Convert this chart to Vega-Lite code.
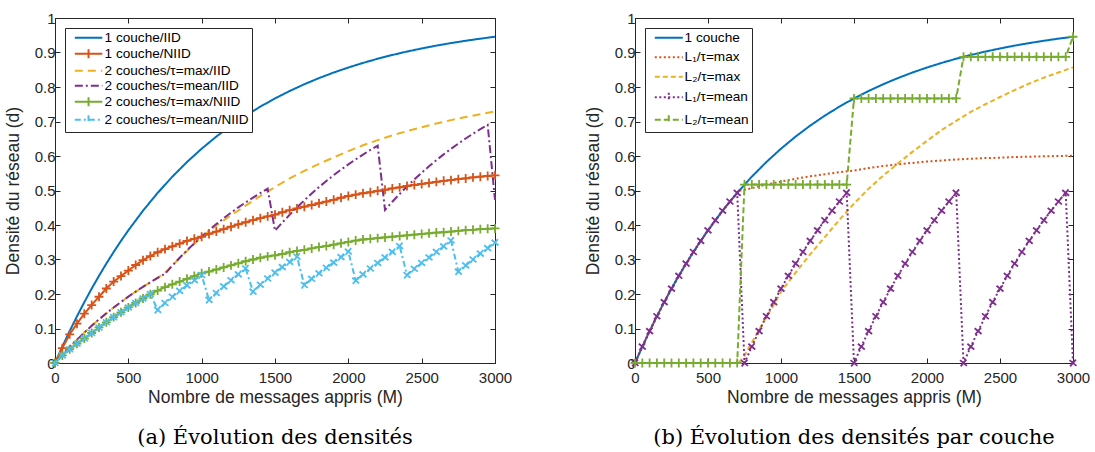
{
  "$schema": "https://vega.github.io/schema/vega-lite/v6.json",
  "background": "white",
  "padding": {"left": 3, "top": 10, "right": 5, "bottom": 2},
  "bounds": "flush",
  "spacing": 140,
  "config": {
    "view": {"stroke": "#262626", "strokeWidth": 1},
    "axis": {
      "grid": false,
      "labelFlush": false,
      "labelOverlap": false,
      "domainColor": "#262626",
      "domainWidth": 1,
      "tickColor": "#262626",
      "tickWidth": 1,
      "tickSize": -5,
      "labelFont": "Liberation Sans",
      "labelFontSize": 15,
      "labelColor": "#262626",
      "titleFont": "Liberation Sans",
      "titleFontSize": 17.5,
      "titleFontWeight": "normal",
      "titleColor": "#262626"
    },
    "legend": {
      "orient": "top-left",
      "offset": 10,
      "padding": 3,
      "strokeColor": "#262626",
      "fillColor": "white",
      "cornerRadius": 0,
      "labelFont": "Liberation Sans",
      "labelFontSize": 13.6,
      "labelColor": "#000000",
      "labelOffset": 23,
      "symbolSize": 100,
      "symbolStrokeWidth": 2,
      "rowPadding": 0,
      "title": null
    },
    "title": {"font": "DejaVu Serif", "fontSize": 21, "fontWeight": "normal", "color": "#000000", "orient": "bottom", "anchor": "middle", "offset": 21}
  },
  "datasets": {
    "L": [
      {"s":"1 couche/IID","m":0,"d":0},{"s":"1 couche/IID","m":50,"d":0.0474},{"s":"1 couche/IID","m":100,"d":0.0925},{"s":"1 couche/IID","m":150,"d":0.1355},{"s":"1 couche/IID","m":200,"d":0.1765},{"s":"1 couche/IID","m":250,"d":0.2155},{"s":"1 couche/IID","m":300,"d":0.2527},{"s":"1 couche/IID","m":350,"d":0.2881},{"s":"1 couche/IID","m":400,"d":0.3218},{"s":"1 couche/IID","m":450,"d":0.354},{"s":"1 couche/IID","m":500,"d":0.3845},{"s":"1 couche/IID","m":600,"d":0.4415},{"s":"1 couche/IID","m":700,"d":0.4932},{"s":"1 couche/IID","m":800,"d":0.5401},{"s":"1 couche/IID","m":900,"d":0.5826},{"s":"1 couche/IID","m":1000,"d":0.6212},{"s":"1 couche/IID","m":1100,"d":0.6563},{"s":"1 couche/IID","m":1200,"d":0.6881},{"s":"1 couche/IID","m":1300,"d":0.717},{"s":"1 couche/IID","m":1400,"d":0.7431},{"s":"1 couche/IID","m":1500,"d":0.7669},{"s":"1 couche/IID","m":1600,"d":0.7884},{"s":"1 couche/IID","m":1700,"d":0.808},{"s":"1 couche/IID","m":1800,"d":0.8258},{"s":"1 couche/IID","m":1900,"d":0.8419},{"s":"1 couche/IID","m":2000,"d":0.8565},{"s":"1 couche/IID","m":2100,"d":0.8698},{"s":"1 couche/IID","m":2200,"d":0.8819},{"s":"1 couche/IID","m":2300,"d":0.8928},{"s":"1 couche/IID","m":2400,"d":0.9027},{"s":"1 couche/IID","m":2500,"d":0.9117},{"s":"1 couche/IID","m":2600,"d":0.9199},{"s":"1 couche/IID","m":2700,"d":0.9273},{"s":"1 couche/IID","m":2800,"d":0.934},{"s":"1 couche/IID","m":2900,"d":0.9401},{"s":"1 couche/IID","m":3000,"d":0.9457},

      {"s":"1 couche/NIID","m":0,"d":0},{"s":"1 couche/NIID","m":50,"d":0.043},{"s":"1 couche/NIID","m":100,"d":0.083},{"s":"1 couche/NIID","m":150,"d":0.114},{"s":"1 couche/NIID","m":200,"d":0.143},{"s":"1 couche/NIID","m":250,"d":0.168},{"s":"1 couche/NIID","m":300,"d":0.192},{"s":"1 couche/NIID","m":350,"d":0.216},{"s":"1 couche/NIID","m":400,"d":0.236},{"s":"1 couche/NIID","m":450,"d":0.252},{"s":"1 couche/NIID","m":500,"d":0.268},{"s":"1 couche/NIID","m":550,"d":0.284},{"s":"1 couche/NIID","m":600,"d":0.298},{"s":"1 couche/NIID","m":650,"d":0.31},{"s":"1 couche/NIID","m":700,"d":0.321},{"s":"1 couche/NIID","m":750,"d":0.33},{"s":"1 couche/NIID","m":800,"d":0.338},{"s":"1 couche/NIID","m":850,"d":0.346},{"s":"1 couche/NIID","m":900,"d":0.354},{"s":"1 couche/NIID","m":950,"d":0.36},{"s":"1 couche/NIID","m":1000,"d":0.366},{"s":"1 couche/NIID","m":1050,"d":0.374},{"s":"1 couche/NIID","m":1100,"d":0.381},{"s":"1 couche/NIID","m":1150,"d":0.388},{"s":"1 couche/NIID","m":1200,"d":0.395},{"s":"1 couche/NIID","m":1250,"d":0.402},{"s":"1 couche/NIID","m":1300,"d":0.408},{"s":"1 couche/NIID","m":1350,"d":0.414},{"s":"1 couche/NIID","m":1400,"d":0.42},{"s":"1 couche/NIID","m":1450,"d":0.425},{"s":"1 couche/NIID","m":1500,"d":0.43},{"s":"1 couche/NIID","m":1550,"d":0.437},{"s":"1 couche/NIID","m":1600,"d":0.443},{"s":"1 couche/NIID","m":1650,"d":0.448},{"s":"1 couche/NIID","m":1700,"d":0.453},{"s":"1 couche/NIID","m":1750,"d":0.458},{"s":"1 couche/NIID","m":1800,"d":0.463},{"s":"1 couche/NIID","m":1850,"d":0.468},{"s":"1 couche/NIID","m":1900,"d":0.473},{"s":"1 couche/NIID","m":1950,"d":0.479},{"s":"1 couche/NIID","m":2000,"d":0.484},{"s":"1 couche/NIID","m":2050,"d":0.488},{"s":"1 couche/NIID","m":2100,"d":0.492},{"s":"1 couche/NIID","m":2150,"d":0.495},{"s":"1 couche/NIID","m":2200,"d":0.499},{"s":"1 couche/NIID","m":2250,"d":0.502},{"s":"1 couche/NIID","m":2300,"d":0.506},{"s":"1 couche/NIID","m":2350,"d":0.509},{"s":"1 couche/NIID","m":2400,"d":0.513},{"s":"1 couche/NIID","m":2450,"d":0.516},{"s":"1 couche/NIID","m":2500,"d":0.519},{"s":"1 couche/NIID","m":2550,"d":0.522},{"s":"1 couche/NIID","m":2600,"d":0.525},{"s":"1 couche/NIID","m":2650,"d":0.528},{"s":"1 couche/NIID","m":2700,"d":0.53},{"s":"1 couche/NIID","m":2750,"d":0.533},{"s":"1 couche/NIID","m":2800,"d":0.535},{"s":"1 couche/NIID","m":2850,"d":0.538},{"s":"1 couche/NIID","m":2900,"d":0.54},{"s":"1 couche/NIID","m":2950,"d":0.542},{"s":"1 couche/NIID","m":3000,"d":0.544},

      {"s":"2 couches/τ=max/IID","m":0,"d":0},{"s":"2 couches/τ=max/IID","m":100,"d":0.0463},{"s":"2 couches/τ=max/IID","m":200,"d":0.0883},{"s":"2 couches/τ=max/IID","m":300,"d":0.1264},{"s":"2 couches/τ=max/IID","m":400,"d":0.1609},{"s":"2 couches/τ=max/IID","m":500,"d":0.1923},{"s":"2 couches/τ=max/IID","m":600,"d":0.2208},{"s":"2 couches/τ=max/IID","m":700,"d":0.2466},{"s":"2 couches/τ=max/IID","m":750,"d":0.262},{"s":"2 couches/τ=max/IID","m":800,"d":0.283},{"s":"2 couches/τ=max/IID","m":850,"d":0.304},{"s":"2 couches/τ=max/IID","m":900,"d":0.325},{"s":"2 couches/τ=max/IID","m":950,"d":0.345},{"s":"2 couches/τ=max/IID","m":1000,"d":0.366},{"s":"2 couches/τ=max/IID","m":1100,"d":0.398},{"s":"2 couches/τ=max/IID","m":1200,"d":0.428},{"s":"2 couches/τ=max/IID","m":1300,"d":0.456},{"s":"2 couches/τ=max/IID","m":1400,"d":0.484},{"s":"2 couches/τ=max/IID","m":1500,"d":0.51},{"s":"2 couches/τ=max/IID","m":1600,"d":0.535},{"s":"2 couches/τ=max/IID","m":1700,"d":0.557},{"s":"2 couches/τ=max/IID","m":1800,"d":0.577},{"s":"2 couches/τ=max/IID","m":1900,"d":0.596},{"s":"2 couches/τ=max/IID","m":2000,"d":0.614},{"s":"2 couches/τ=max/IID","m":2100,"d":0.631},{"s":"2 couches/τ=max/IID","m":2200,"d":0.646},{"s":"2 couches/τ=max/IID","m":2300,"d":0.66},{"s":"2 couches/τ=max/IID","m":2400,"d":0.672},{"s":"2 couches/τ=max/IID","m":2500,"d":0.683},{"s":"2 couches/τ=max/IID","m":2600,"d":0.694},{"s":"2 couches/τ=max/IID","m":2700,"d":0.704},{"s":"2 couches/τ=max/IID","m":2800,"d":0.713},{"s":"2 couches/τ=max/IID","m":2900,"d":0.721},{"s":"2 couches/τ=max/IID","m":3000,"d":0.729},

      {"s":"2 couches/τ=mean/IID","m":0,"d":0},{"s":"2 couches/τ=mean/IID","m":50,"d":0.0237},{"s":"2 couches/τ=mean/IID","m":100,"d":0.0463},{"s":"2 couches/τ=mean/IID","m":150,"d":0.0678},{"s":"2 couches/τ=mean/IID","m":200,"d":0.0883},{"s":"2 couches/τ=mean/IID","m":250,"d":0.1078},{"s":"2 couches/τ=mean/IID","m":300,"d":0.1264},{"s":"2 couches/τ=mean/IID","m":350,"d":0.1441},{"s":"2 couches/τ=mean/IID","m":400,"d":0.1609},{"s":"2 couches/τ=mean/IID","m":450,"d":0.177},{"s":"2 couches/τ=mean/IID","m":500,"d":0.1923},{"s":"2 couches/τ=mean/IID","m":550,"d":0.2069},{"s":"2 couches/τ=mean/IID","m":600,"d":0.2208},{"s":"2 couches/τ=mean/IID","m":650,"d":0.234},{"s":"2 couches/τ=mean/IID","m":700,"d":0.2466},
      {"s":"2 couches/τ=mean/IID","m":750,"d":0.2586},{"s":"2 couches/τ=mean/IID","m":800,"d":0.2823},{"s":"2 couches/τ=mean/IID","m":850,"d":0.3049},{"s":"2 couches/τ=mean/IID","m":900,"d":0.3264},{"s":"2 couches/τ=mean/IID","m":950,"d":0.3469},{"s":"2 couches/τ=mean/IID","m":1000,"d":0.3664},{"s":"2 couches/τ=mean/IID","m":1050,"d":0.385},{"s":"2 couches/τ=mean/IID","m":1100,"d":0.4027},{"s":"2 couches/τ=mean/IID","m":1150,"d":0.4195},{"s":"2 couches/τ=mean/IID","m":1200,"d":0.4356},{"s":"2 couches/τ=mean/IID","m":1250,"d":0.4509},{"s":"2 couches/τ=mean/IID","m":1300,"d":0.4655},{"s":"2 couches/τ=mean/IID","m":1350,"d":0.4794},{"s":"2 couches/τ=mean/IID","m":1400,"d":0.4926},{"s":"2 couches/τ=mean/IID","m":1450,"d":0.5052},
      {"s":"2 couches/τ=mean/IID","m":1500,"d":0.3835},{"s":"2 couches/τ=mean/IID","m":1550,"d":0.4072},{"s":"2 couches/τ=mean/IID","m":1600,"d":0.4297},{"s":"2 couches/τ=mean/IID","m":1650,"d":0.4512},{"s":"2 couches/τ=mean/IID","m":1700,"d":0.4717},{"s":"2 couches/τ=mean/IID","m":1750,"d":0.4912},{"s":"2 couches/τ=mean/IID","m":1800,"d":0.5098},{"s":"2 couches/τ=mean/IID","m":1850,"d":0.5275},{"s":"2 couches/τ=mean/IID","m":1900,"d":0.5444},{"s":"2 couches/τ=mean/IID","m":1950,"d":0.5605},{"s":"2 couches/τ=mean/IID","m":2000,"d":0.5757},{"s":"2 couches/τ=mean/IID","m":2050,"d":0.5903},{"s":"2 couches/τ=mean/IID","m":2100,"d":0.6042},{"s":"2 couches/τ=mean/IID","m":2150,"d":0.6175},{"s":"2 couches/τ=mean/IID","m":2200,"d":0.6301},
      {"s":"2 couches/τ=mean/IID","m":2250,"d":0.4438},{"s":"2 couches/τ=mean/IID","m":2300,"d":0.4675},{"s":"2 couches/τ=mean/IID","m":2350,"d":0.49},{"s":"2 couches/τ=mean/IID","m":2400,"d":0.5115},{"s":"2 couches/τ=mean/IID","m":2450,"d":0.532},{"s":"2 couches/τ=mean/IID","m":2500,"d":0.5515},{"s":"2 couches/τ=mean/IID","m":2550,"d":0.5701},{"s":"2 couches/τ=mean/IID","m":2600,"d":0.5878},{"s":"2 couches/τ=mean/IID","m":2650,"d":0.6047},{"s":"2 couches/τ=mean/IID","m":2700,"d":0.6208},{"s":"2 couches/τ=mean/IID","m":2750,"d":0.6361},{"s":"2 couches/τ=mean/IID","m":2800,"d":0.6507},{"s":"2 couches/τ=mean/IID","m":2850,"d":0.6646},{"s":"2 couches/τ=mean/IID","m":2900,"d":0.6778},{"s":"2 couches/τ=mean/IID","m":2950,"d":0.6904},{"s":"2 couches/τ=mean/IID","m":3000,"d":0.4729},

      {"s":"2 couches/τ=max/NIID","m":0,"d":0},{"s":"2 couches/τ=max/NIID","m":50,"d":0.022},{"s":"2 couches/τ=max/NIID","m":100,"d":0.04},{"s":"2 couches/τ=max/NIID","m":150,"d":0.056},{"s":"2 couches/τ=max/NIID","m":200,"d":0.071},{"s":"2 couches/τ=max/NIID","m":250,"d":0.087},{"s":"2 couches/τ=max/NIID","m":300,"d":0.103},{"s":"2 couches/τ=max/NIID","m":350,"d":0.118},{"s":"2 couches/τ=max/NIID","m":400,"d":0.133},{"s":"2 couches/τ=max/NIID","m":450,"d":0.147},{"s":"2 couches/τ=max/NIID","m":500,"d":0.161},{"s":"2 couches/τ=max/NIID","m":550,"d":0.174},{"s":"2 couches/τ=max/NIID","m":600,"d":0.187},{"s":"2 couches/τ=max/NIID","m":650,"d":0.199},{"s":"2 couches/τ=max/NIID","m":700,"d":0.21},{"s":"2 couches/τ=max/NIID","m":750,"d":0.22},{"s":"2 couches/τ=max/NIID","m":800,"d":0.228},{"s":"2 couches/τ=max/NIID","m":850,"d":0.236},{"s":"2 couches/τ=max/NIID","m":900,"d":0.244},{"s":"2 couches/τ=max/NIID","m":950,"d":0.252},{"s":"2 couches/τ=max/NIID","m":1000,"d":0.26},{"s":"2 couches/τ=max/NIID","m":1050,"d":0.265},{"s":"2 couches/τ=max/NIID","m":1100,"d":0.271},{"s":"2 couches/τ=max/NIID","m":1150,"d":0.277},{"s":"2 couches/τ=max/NIID","m":1200,"d":0.283},{"s":"2 couches/τ=max/NIID","m":1250,"d":0.289},{"s":"2 couches/τ=max/NIID","m":1300,"d":0.295},{"s":"2 couches/τ=max/NIID","m":1350,"d":0.3},{"s":"2 couches/τ=max/NIID","m":1400,"d":0.305},{"s":"2 couches/τ=max/NIID","m":1450,"d":0.309},{"s":"2 couches/τ=max/NIID","m":1500,"d":0.312},{"s":"2 couches/τ=max/NIID","m":1550,"d":0.316},{"s":"2 couches/τ=max/NIID","m":1600,"d":0.321},{"s":"2 couches/τ=max/NIID","m":1650,"d":0.325},{"s":"2 couches/τ=max/NIID","m":1700,"d":0.328},{"s":"2 couches/τ=max/NIID","m":1750,"d":0.332},{"s":"2 couches/τ=max/NIID","m":1800,"d":0.336},{"s":"2 couches/τ=max/NIID","m":1850,"d":0.339},{"s":"2 couches/τ=max/NIID","m":1900,"d":0.343},{"s":"2 couches/τ=max/NIID","m":1950,"d":0.347},{"s":"2 couches/τ=max/NIID","m":2000,"d":0.351},{"s":"2 couches/τ=max/NIID","m":2050,"d":0.355},{"s":"2 couches/τ=max/NIID","m":2100,"d":0.358},{"s":"2 couches/τ=max/NIID","m":2150,"d":0.36},{"s":"2 couches/τ=max/NIID","m":2200,"d":0.362},{"s":"2 couches/τ=max/NIID","m":2250,"d":0.364},{"s":"2 couches/τ=max/NIID","m":2300,"d":0.366},{"s":"2 couches/τ=max/NIID","m":2350,"d":0.368},{"s":"2 couches/τ=max/NIID","m":2400,"d":0.37},{"s":"2 couches/τ=max/NIID","m":2450,"d":0.372},{"s":"2 couches/τ=max/NIID","m":2500,"d":0.374},{"s":"2 couches/τ=max/NIID","m":2550,"d":0.376},{"s":"2 couches/τ=max/NIID","m":2600,"d":0.378},{"s":"2 couches/τ=max/NIID","m":2650,"d":0.379},{"s":"2 couches/τ=max/NIID","m":2700,"d":0.381},{"s":"2 couches/τ=max/NIID","m":2750,"d":0.383},{"s":"2 couches/τ=max/NIID","m":2800,"d":0.385},{"s":"2 couches/τ=max/NIID","m":2850,"d":0.386},{"s":"2 couches/τ=max/NIID","m":2900,"d":0.388},{"s":"2 couches/τ=max/NIID","m":2950,"d":0.389},{"s":"2 couches/τ=max/NIID","m":3000,"d":0.39},

      {"s":"2 couches/τ=mean/NIID","m":0,"d":0},{"s":"2 couches/τ=mean/NIID","m":50,"d":0.022},{"s":"2 couches/τ=mean/NIID","m":100,"d":0.04},{"s":"2 couches/τ=mean/NIID","m":150,"d":0.056},{"s":"2 couches/τ=mean/NIID","m":200,"d":0.071},{"s":"2 couches/τ=mean/NIID","m":250,"d":0.087},{"s":"2 couches/τ=mean/NIID","m":300,"d":0.103},{"s":"2 couches/τ=mean/NIID","m":350,"d":0.118},{"s":"2 couches/τ=mean/NIID","m":400,"d":0.133},{"s":"2 couches/τ=mean/NIID","m":450,"d":0.147},{"s":"2 couches/τ=mean/NIID","m":500,"d":0.161},{"s":"2 couches/τ=mean/NIID","m":550,"d":0.174},{"s":"2 couches/τ=mean/NIID","m":600,"d":0.187},{"s":"2 couches/τ=mean/NIID","m":650,"d":0.2},
      {"s":"2 couches/τ=mean/NIID","m":700,"d":0.154},{"s":"2 couches/τ=mean/NIID","m":750,"d":0.174},{"s":"2 couches/τ=mean/NIID","m":800,"d":0.192},{"s":"2 couches/τ=mean/NIID","m":850,"d":0.209},{"s":"2 couches/τ=mean/NIID","m":900,"d":0.225},{"s":"2 couches/τ=mean/NIID","m":950,"d":0.24},{"s":"2 couches/τ=mean/NIID","m":1000,"d":0.255},
      {"s":"2 couches/τ=mean/NIID","m":1050,"d":0.183},{"s":"2 couches/τ=mean/NIID","m":1100,"d":0.203},{"s":"2 couches/τ=mean/NIID","m":1150,"d":0.222},{"s":"2 couches/τ=mean/NIID","m":1200,"d":0.24},{"s":"2 couches/τ=mean/NIID","m":1250,"d":0.257},{"s":"2 couches/τ=mean/NIID","m":1300,"d":0.274},
      {"s":"2 couches/τ=mean/NIID","m":1350,"d":0.207},{"s":"2 couches/τ=mean/NIID","m":1400,"d":0.227},{"s":"2 couches/τ=mean/NIID","m":1450,"d":0.245},{"s":"2 couches/τ=mean/NIID","m":1500,"d":0.262},{"s":"2 couches/τ=mean/NIID","m":1550,"d":0.278},{"s":"2 couches/τ=mean/NIID","m":1600,"d":0.293},{"s":"2 couches/τ=mean/NIID","m":1650,"d":0.308},
      {"s":"2 couches/τ=mean/NIID","m":1700,"d":0.226},{"s":"2 couches/τ=mean/NIID","m":1750,"d":0.244},{"s":"2 couches/τ=mean/NIID","m":1800,"d":0.26},{"s":"2 couches/τ=mean/NIID","m":1850,"d":0.276},{"s":"2 couches/τ=mean/NIID","m":1900,"d":0.291},{"s":"2 couches/τ=mean/NIID","m":1950,"d":0.307},{"s":"2 couches/τ=mean/NIID","m":2000,"d":0.323},
      {"s":"2 couches/τ=mean/NIID","m":2050,"d":0.239},{"s":"2 couches/τ=mean/NIID","m":2100,"d":0.257},{"s":"2 couches/τ=mean/NIID","m":2150,"d":0.274},{"s":"2 couches/τ=mean/NIID","m":2200,"d":0.29},{"s":"2 couches/τ=mean/NIID","m":2250,"d":0.306},{"s":"2 couches/τ=mean/NIID","m":2300,"d":0.322},{"s":"2 couches/τ=mean/NIID","m":2350,"d":0.339},
      {"s":"2 couches/τ=mean/NIID","m":2400,"d":0.255},{"s":"2 couches/τ=mean/NIID","m":2450,"d":0.273},{"s":"2 couches/τ=mean/NIID","m":2500,"d":0.29},{"s":"2 couches/τ=mean/NIID","m":2550,"d":0.306},{"s":"2 couches/τ=mean/NIID","m":2600,"d":0.322},{"s":"2 couches/τ=mean/NIID","m":2650,"d":0.338},{"s":"2 couches/τ=mean/NIID","m":2700,"d":0.355},
      {"s":"2 couches/τ=mean/NIID","m":2750,"d":0.265},{"s":"2 couches/τ=mean/NIID","m":2800,"d":0.283},{"s":"2 couches/τ=mean/NIID","m":2850,"d":0.3},{"s":"2 couches/τ=mean/NIID","m":2900,"d":0.317},{"s":"2 couches/τ=mean/NIID","m":2950,"d":0.333},{"s":"2 couches/τ=mean/NIID","m":3000,"d":0.349}
    ],
    "R": [
      {"s":"1 couche","m":0,"d":0},{"s":"1 couche","m":50,"d":0.0474},{"s":"1 couche","m":100,"d":0.0925},{"s":"1 couche","m":150,"d":0.1355},{"s":"1 couche","m":200,"d":0.1765},{"s":"1 couche","m":250,"d":0.2155},{"s":"1 couche","m":300,"d":0.2527},{"s":"1 couche","m":350,"d":0.2881},{"s":"1 couche","m":400,"d":0.3218},{"s":"1 couche","m":450,"d":0.354},{"s":"1 couche","m":500,"d":0.3845},{"s":"1 couche","m":600,"d":0.4415},{"s":"1 couche","m":700,"d":0.4932},{"s":"1 couche","m":800,"d":0.5401},{"s":"1 couche","m":900,"d":0.5826},{"s":"1 couche","m":1000,"d":0.6212},{"s":"1 couche","m":1100,"d":0.6563},{"s":"1 couche","m":1200,"d":0.6881},{"s":"1 couche","m":1300,"d":0.717},{"s":"1 couche","m":1400,"d":0.7431},{"s":"1 couche","m":1500,"d":0.7669},{"s":"1 couche","m":1600,"d":0.7884},{"s":"1 couche","m":1700,"d":0.808},{"s":"1 couche","m":1800,"d":0.8258},{"s":"1 couche","m":1900,"d":0.8419},{"s":"1 couche","m":2000,"d":0.8565},{"s":"1 couche","m":2100,"d":0.8698},{"s":"1 couche","m":2200,"d":0.8819},{"s":"1 couche","m":2300,"d":0.8928},{"s":"1 couche","m":2400,"d":0.9027},{"s":"1 couche","m":2500,"d":0.9117},{"s":"1 couche","m":2600,"d":0.9199},{"s":"1 couche","m":2700,"d":0.9273},{"s":"1 couche","m":2800,"d":0.934},{"s":"1 couche","m":2900,"d":0.9401},{"s":"1 couche","m":3000,"d":0.9457},

      {"s":"L₁/τ=max","m":0,"d":0},{"s":"L₁/τ=max","m":100,"d":0.0925},{"s":"L₁/τ=max","m":200,"d":0.1765},{"s":"L₁/τ=max","m":300,"d":0.2527},{"s":"L₁/τ=max","m":400,"d":0.3218},{"s":"L₁/τ=max","m":500,"d":0.3845},{"s":"L₁/τ=max","m":600,"d":0.4415},{"s":"L₁/τ=max","m":700,"d":0.4932},{"s":"L₁/τ=max","m":710,"d":0.499},{"s":"L₁/τ=max","m":750,"d":0.502},{"s":"L₁/τ=max","m":800,"d":0.507},{"s":"L₁/τ=max","m":900,"d":0.517},{"s":"L₁/τ=max","m":1000,"d":0.526},{"s":"L₁/τ=max","m":1100,"d":0.534},{"s":"L₁/τ=max","m":1200,"d":0.541},{"s":"L₁/τ=max","m":1300,"d":0.547},{"s":"L₁/τ=max","m":1400,"d":0.553},{"s":"L₁/τ=max","m":1500,"d":0.558},{"s":"L₁/τ=max","m":1600,"d":0.565},{"s":"L₁/τ=max","m":1700,"d":0.571},{"s":"L₁/τ=max","m":1800,"d":0.576},{"s":"L₁/τ=max","m":1900,"d":0.58},{"s":"L₁/τ=max","m":2000,"d":0.584},{"s":"L₁/τ=max","m":2100,"d":0.587},{"s":"L₁/τ=max","m":2200,"d":0.59},{"s":"L₁/τ=max","m":2300,"d":0.592},{"s":"L₁/τ=max","m":2400,"d":0.594},{"s":"L₁/τ=max","m":2500,"d":0.595},{"s":"L₁/τ=max","m":2600,"d":0.597},{"s":"L₁/τ=max","m":2700,"d":0.598},{"s":"L₁/τ=max","m":2800,"d":0.599},{"s":"L₁/τ=max","m":2900,"d":0.6},{"s":"L₁/τ=max","m":3000,"d":0.601},

      {"s":"L₂/τ=max","m":0,"d":0},{"s":"L₂/τ=max","m":200,"d":0},{"s":"L₂/τ=max","m":400,"d":0},{"s":"L₂/τ=max","m":600,"d":0},{"s":"L₂/τ=max","m":710,"d":0},{"s":"L₂/τ=max","m":750,"d":0.022},{"s":"L₂/τ=max","m":800,"d":0.059},{"s":"L₂/τ=max","m":850,"d":0.096},{"s":"L₂/τ=max","m":900,"d":0.133},{"s":"L₂/τ=max","m":950,"d":0.168},{"s":"L₂/τ=max","m":1000,"d":0.206},{"s":"L₂/τ=max","m":1100,"d":0.262},{"s":"L₂/τ=max","m":1200,"d":0.315},{"s":"L₂/τ=max","m":1300,"d":0.365},{"s":"L₂/τ=max","m":1400,"d":0.415},{"s":"L₂/τ=max","m":1500,"d":0.462},{"s":"L₂/τ=max","m":1600,"d":0.505},{"s":"L₂/τ=max","m":1700,"d":0.543},{"s":"L₂/τ=max","m":1800,"d":0.578},{"s":"L₂/τ=max","m":1900,"d":0.612},{"s":"L₂/τ=max","m":2000,"d":0.644},{"s":"L₂/τ=max","m":2100,"d":0.675},{"s":"L₂/τ=max","m":2200,"d":0.702},{"s":"L₂/τ=max","m":2300,"d":0.728},{"s":"L₂/τ=max","m":2400,"d":0.75},{"s":"L₂/τ=max","m":2500,"d":0.771},{"s":"L₂/τ=max","m":2600,"d":0.791},{"s":"L₂/τ=max","m":2700,"d":0.81},{"s":"L₂/τ=max","m":2800,"d":0.827},{"s":"L₂/τ=max","m":2900,"d":0.842},{"s":"L₂/τ=max","m":3000,"d":0.857},

      {"s":"L₁/τ=mean","m":0,"d":0},{"s":"L₁/τ=mean","m":50,"d":0.0474},{"s":"L₁/τ=mean","m":100,"d":0.0925},{"s":"L₁/τ=mean","m":150,"d":0.1355},{"s":"L₁/τ=mean","m":200,"d":0.1765},{"s":"L₁/τ=mean","m":250,"d":0.2155},{"s":"L₁/τ=mean","m":300,"d":0.2527},{"s":"L₁/τ=mean","m":350,"d":0.2881},{"s":"L₁/τ=mean","m":400,"d":0.3218},{"s":"L₁/τ=mean","m":450,"d":0.354},{"s":"L₁/τ=mean","m":500,"d":0.3845},{"s":"L₁/τ=mean","m":550,"d":0.4137},{"s":"L₁/τ=mean","m":600,"d":0.4415},{"s":"L₁/τ=mean","m":650,"d":0.468},{"s":"L₁/τ=mean","m":700,"d":0.4932},
      {"s":"L₁/τ=mean","m":750,"d":0},{"s":"L₁/τ=mean","m":800,"d":0.0474},{"s":"L₁/τ=mean","m":850,"d":0.0925},{"s":"L₁/τ=mean","m":900,"d":0.1355},{"s":"L₁/τ=mean","m":950,"d":0.1765},{"s":"L₁/τ=mean","m":1000,"d":0.2155},{"s":"L₁/τ=mean","m":1050,"d":0.2527},{"s":"L₁/τ=mean","m":1100,"d":0.2881},{"s":"L₁/τ=mean","m":1150,"d":0.3218},{"s":"L₁/τ=mean","m":1200,"d":0.354},{"s":"L₁/τ=mean","m":1250,"d":0.3845},{"s":"L₁/τ=mean","m":1300,"d":0.4137},{"s":"L₁/τ=mean","m":1350,"d":0.4415},{"s":"L₁/τ=mean","m":1400,"d":0.468},{"s":"L₁/τ=mean","m":1450,"d":0.4932},
      {"s":"L₁/τ=mean","m":1500,"d":0},{"s":"L₁/τ=mean","m":1550,"d":0.0474},{"s":"L₁/τ=mean","m":1600,"d":0.0925},{"s":"L₁/τ=mean","m":1650,"d":0.1355},{"s":"L₁/τ=mean","m":1700,"d":0.1765},{"s":"L₁/τ=mean","m":1750,"d":0.2155},{"s":"L₁/τ=mean","m":1800,"d":0.2527},{"s":"L₁/τ=mean","m":1850,"d":0.2881},{"s":"L₁/τ=mean","m":1900,"d":0.3218},{"s":"L₁/τ=mean","m":1950,"d":0.354},{"s":"L₁/τ=mean","m":2000,"d":0.3845},{"s":"L₁/τ=mean","m":2050,"d":0.4137},{"s":"L₁/τ=mean","m":2100,"d":0.4415},{"s":"L₁/τ=mean","m":2150,"d":0.468},{"s":"L₁/τ=mean","m":2200,"d":0.4932},
      {"s":"L₁/τ=mean","m":2250,"d":0},{"s":"L₁/τ=mean","m":2300,"d":0.0474},{"s":"L₁/τ=mean","m":2350,"d":0.0925},{"s":"L₁/τ=mean","m":2400,"d":0.1355},{"s":"L₁/τ=mean","m":2450,"d":0.1765},{"s":"L₁/τ=mean","m":2500,"d":0.2155},{"s":"L₁/τ=mean","m":2550,"d":0.2527},{"s":"L₁/τ=mean","m":2600,"d":0.2881},{"s":"L₁/τ=mean","m":2650,"d":0.3218},{"s":"L₁/τ=mean","m":2700,"d":0.354},{"s":"L₁/τ=mean","m":2750,"d":0.3845},{"s":"L₁/τ=mean","m":2800,"d":0.4137},{"s":"L₁/τ=mean","m":2850,"d":0.4415},{"s":"L₁/τ=mean","m":2900,"d":0.468},{"s":"L₁/τ=mean","m":2950,"d":0.4932},{"s":"L₁/τ=mean","m":3000,"d":0},

      {"s":"L₂/τ=mean","m":0,"d":0},{"s":"L₂/τ=mean","m":50,"d":0},{"s":"L₂/τ=mean","m":100,"d":0},{"s":"L₂/τ=mean","m":150,"d":0},{"s":"L₂/τ=mean","m":200,"d":0},{"s":"L₂/τ=mean","m":250,"d":0},{"s":"L₂/τ=mean","m":300,"d":0},{"s":"L₂/τ=mean","m":350,"d":0},{"s":"L₂/τ=mean","m":400,"d":0},{"s":"L₂/τ=mean","m":450,"d":0},{"s":"L₂/τ=mean","m":500,"d":0},{"s":"L₂/τ=mean","m":550,"d":0},{"s":"L₂/τ=mean","m":600,"d":0},{"s":"L₂/τ=mean","m":650,"d":0},{"s":"L₂/τ=mean","m":700,"d":0},
      {"s":"L₂/τ=mean","m":750,"d":0.5172},{"s":"L₂/τ=mean","m":800,"d":0.5172},{"s":"L₂/τ=mean","m":850,"d":0.5172},{"s":"L₂/τ=mean","m":900,"d":0.5172},{"s":"L₂/τ=mean","m":950,"d":0.5172},{"s":"L₂/τ=mean","m":1000,"d":0.5172},{"s":"L₂/τ=mean","m":1050,"d":0.5172},{"s":"L₂/τ=mean","m":1100,"d":0.5172},{"s":"L₂/τ=mean","m":1150,"d":0.5172},{"s":"L₂/τ=mean","m":1200,"d":0.5172},{"s":"L₂/τ=mean","m":1250,"d":0.5172},{"s":"L₂/τ=mean","m":1300,"d":0.5172},{"s":"L₂/τ=mean","m":1350,"d":0.5172},{"s":"L₂/τ=mean","m":1400,"d":0.5172},{"s":"L₂/τ=mean","m":1450,"d":0.5172},
      {"s":"L₂/τ=mean","m":1500,"d":0.7669},{"s":"L₂/τ=mean","m":1550,"d":0.7669},{"s":"L₂/τ=mean","m":1600,"d":0.7669},{"s":"L₂/τ=mean","m":1650,"d":0.7669},{"s":"L₂/τ=mean","m":1700,"d":0.7669},{"s":"L₂/τ=mean","m":1750,"d":0.7669},{"s":"L₂/τ=mean","m":1800,"d":0.7669},{"s":"L₂/τ=mean","m":1850,"d":0.7669},{"s":"L₂/τ=mean","m":1900,"d":0.7669},{"s":"L₂/τ=mean","m":1950,"d":0.7669},{"s":"L₂/τ=mean","m":2000,"d":0.7669},{"s":"L₂/τ=mean","m":2050,"d":0.7669},{"s":"L₂/τ=mean","m":2100,"d":0.7669},{"s":"L₂/τ=mean","m":2150,"d":0.7669},{"s":"L₂/τ=mean","m":2200,"d":0.7669},
      {"s":"L₂/τ=mean","m":2250,"d":0.8875},{"s":"L₂/τ=mean","m":2300,"d":0.8875},{"s":"L₂/τ=mean","m":2350,"d":0.8875},{"s":"L₂/τ=mean","m":2400,"d":0.8875},{"s":"L₂/τ=mean","m":2450,"d":0.8875},{"s":"L₂/τ=mean","m":2500,"d":0.8875},{"s":"L₂/τ=mean","m":2550,"d":0.8875},{"s":"L₂/τ=mean","m":2600,"d":0.8875},{"s":"L₂/τ=mean","m":2650,"d":0.8875},{"s":"L₂/τ=mean","m":2700,"d":0.8875},{"s":"L₂/τ=mean","m":2750,"d":0.8875},{"s":"L₂/τ=mean","m":2800,"d":0.8875},{"s":"L₂/τ=mean","m":2850,"d":0.8875},{"s":"L₂/τ=mean","m":2900,"d":0.8875},{"s":"L₂/τ=mean","m":2950,"d":0.8875},{"s":"L₂/τ=mean","m":3000,"d":0.9457}
    ]
  },
  "resolve": {"scale": {"color": "independent", "strokeDash": "independent", "shape": "independent", "stroke": "independent", "x": "independent", "y": "independent"}, "legend": {"color": "independent"}},
  "hconcat": [
    {
      "width": 440,
      "height": 345,
      "title": {"text": "(a) Évolution des densités"},
      "data": {"name": "L"},
      "resolve": {"axis": {"x": "independent", "y": "independent"}},
      "layer": [
        {
          "mark": {"type": "line", "strokeWidth": 2},
          "encoding": {
            "x": {"field": "m", "type": "quantitative", "scale": {"domain": [0, 3000], "nice": false, "zero": false}, "axis": {"orient": "bottom", "values": [0, 500, 1000, 1500, 2000, 2500, 3000], "format": "d", "labelPadding": 12, "title": "Nombre de messages appris (M)", "titlePadding": 3}},
            "y": {"field": "d", "type": "quantitative", "scale": {"domain": [0, 1], "nice": false, "zero": false}, "axis": {"orient": "left", "values": [0, 0.1, 0.2, 0.3, 0.4, 0.5, 0.6, 0.7, 0.8, 0.9, 1], "format": "~g", "labelPadding": 5, "title": "Densité du réseau (d)", "titlePadding": 12}},
            "color": {"field": "s", "type": "nominal", "sort": null,
              "scale": {"domain": ["1 couche/IID", "1 couche/NIID", "2 couches/τ=max/IID", "2 couches/τ=mean/IID", "2 couches/τ=max/NIID", "2 couches/τ=mean/NIID"], "range": ["#0072BD", "#D95319", "#EDB120", "#7E2F8E", "#77AC30", "#4DBEEE"]},
              "legend": {"rowPadding": 0, "encode": {"symbols": {"update": {
                "shape": {"signal": "indexof(['1 couche/NIID','2 couches/τ=max/NIID','2 couches/τ=mean/NIID'], datum.value) >= 0 ? 'M0,0L5.5,0M2.75,-0.9L2.75,0.9' : 'M0,0L5.5,0'"},
                "strokeDash": {"signal": "datum.value == '2 couches/τ=max/IID' ? [8,5] : datum.value == '2 couches/τ=mean/IID' ? [8,3,2,3] : datum.value == '2 couches/τ=mean/NIID' ? [6,3,2,3] : [1,0]"},
                "fill": {"value": "transparent"},
                "strokeWidth": {"value": 2}
              }}}}},
            "strokeDash": {"field": "s", "type": "nominal", "sort": null, "legend": null,
              "scale": {"domain": ["1 couche/IID", "1 couche/NIID", "2 couches/τ=max/IID", "2 couches/τ=mean/IID", "2 couches/τ=max/NIID", "2 couches/τ=mean/NIID"], "range": [[1, 0], [1, 0], [8, 5], [8, 3, 2, 3], [1, 0], [6, 3, 2, 3]]}}
          }
        },
        {
          "transform": [{"filter": {"field": "s", "oneOf": ["1 couche/NIID", "2 couches/τ=max/NIID", "2 couches/τ=mean/NIID"]}}],
          "mark": {"type": "point", "filled": false, "strokeWidth": 1.8, "size": 80, "opacity": 1},
          "encoding": {
            "x": {"field": "m", "type": "quantitative", "scale": {"domain": [0, 3000], "nice": false, "zero": false}, "axis": {"orient": "top", "values": [0, 500, 1000, 1500, 2000, 2500, 3000], "labels": false, "title": null}},
            "y": {"field": "d", "type": "quantitative", "scale": {"domain": [0, 1], "nice": false, "zero": false}, "axis": {"orient": "right", "values": [0, 0.1, 0.2, 0.3, 0.4, 0.5, 0.6, 0.7, 0.8, 0.9, 1], "labels": false, "title": null}},
            "stroke": {"field": "s", "type": "nominal", "legend": null,
              "scale": {"domain": ["1 couche/NIID", "2 couches/τ=max/NIID", "2 couches/τ=mean/NIID"], "range": ["#D95319", "#77AC30", "#4DBEEE"]}},
            "shape": {"field": "s", "type": "nominal", "legend": null,
              "scale": {"domain": ["1 couche/NIID", "2 couches/τ=max/NIID", "2 couches/τ=mean/NIID"], "range": ["M-1,0L1,0M0,-1L0,1", "M-1,0L1,0M0,-1L0,1", "M-0.77,-0.64L0.77,0.64M0.64,-0.77L-0.64,0.77"]}}
          }
        }
      ]
    },
    {
      "width": 438,
      "height": 345,
      "title": {"text": "(b) Évolution des densités par couche"},
      "data": {"name": "R"},
      "resolve": {"axis": {"x": "independent", "y": "independent"}},
      "layer": [
        {
          "mark": {"type": "line", "strokeWidth": 2},
          "encoding": {
            "x": {"field": "m", "type": "quantitative", "scale": {"domain": [0, 3000], "nice": false, "zero": false}, "axis": {"orient": "bottom", "values": [0, 500, 1000, 1500, 2000, 2500, 3000], "format": "d", "labelPadding": 12, "title": "Nombre de messages appris (M)", "titlePadding": 3}},
            "y": {"field": "d", "type": "quantitative", "scale": {"domain": [0, 1], "nice": false, "zero": false}, "axis": {"orient": "left", "values": [0, 0.1, 0.2, 0.3, 0.4, 0.5, 0.6, 0.7, 0.8, 0.9, 1], "format": "~g", "labelPadding": 5, "title": "Densité du réseau (d)", "titlePadding": 12}},
            "color": {"field": "s", "type": "nominal", "sort": null,
              "scale": {"domain": ["1 couche", "L₁/τ=max", "L₂/τ=max", "L₁/τ=mean", "L₂/τ=mean"], "range": ["#0072BD", "#D95319", "#EDB120", "#7E2F8E", "#77AC30"]},
              "legend": {"rowPadding": 4.5, "encode": {"symbols": {"update": {
                "shape": {"signal": "indexof(['L₁/τ=mean','L₂/τ=mean'], datum.value) >= 0 ? 'M0,0L5.6,0M2.8,-0.9L2.8,0.9' : 'M0,0L5.6,0'"},
                "strokeDash": {"signal": "(datum.value == 'L₁/τ=max' || datum.value == 'L₁/τ=mean') ? [2,2.5] : (datum.value == 'L₂/τ=max' || datum.value == 'L₂/τ=mean') ? [6,3] : [1,0]"},
                "fill": {"value": "transparent"},
                "strokeWidth": {"value": 2}
              }}}}},
            "strokeDash": {"field": "s", "type": "nominal", "sort": null, "legend": null,
              "scale": {"domain": ["1 couche", "L₁/τ=max", "L₂/τ=max", "L₁/τ=mean", "L₂/τ=mean"], "range": [[1, 0], [2, 2.5], [5, 3], [2, 2.5], [6, 3]]}}
          }
        },
        {
          "transform": [{"filter": {"field": "s", "oneOf": ["L₁/τ=mean", "L₂/τ=mean"]}}],
          "mark": {"type": "point", "filled": false, "strokeWidth": 1.8, "size": 80, "opacity": 1},
          "encoding": {
            "x": {"field": "m", "type": "quantitative", "scale": {"domain": [0, 3000], "nice": false, "zero": false}, "axis": {"orient": "top", "values": [0, 500, 1000, 1500, 2000, 2500, 3000], "labels": false, "title": null}},
            "y": {"field": "d", "type": "quantitative", "scale": {"domain": [0, 1], "nice": false, "zero": false}, "axis": {"orient": "right", "values": [0, 0.1, 0.2, 0.3, 0.4, 0.5, 0.6, 0.7, 0.8, 0.9, 1], "labels": false, "title": null}},
            "stroke": {"field": "s", "type": "nominal", "legend": null,
              "scale": {"domain": ["L₁/τ=mean", "L₂/τ=mean"], "range": ["#7E2F8E", "#77AC30"]}},
            "shape": {"field": "s", "type": "nominal", "legend": null,
              "scale": {"domain": ["L₁/τ=mean", "L₂/τ=mean"], "range": ["M-0.77,-0.64L0.77,0.64M0.64,-0.77L-0.64,0.77", "M-1,0L1,0M0,-1L0,1"]}}
          }
        }
      ]
    }
  ]
}
